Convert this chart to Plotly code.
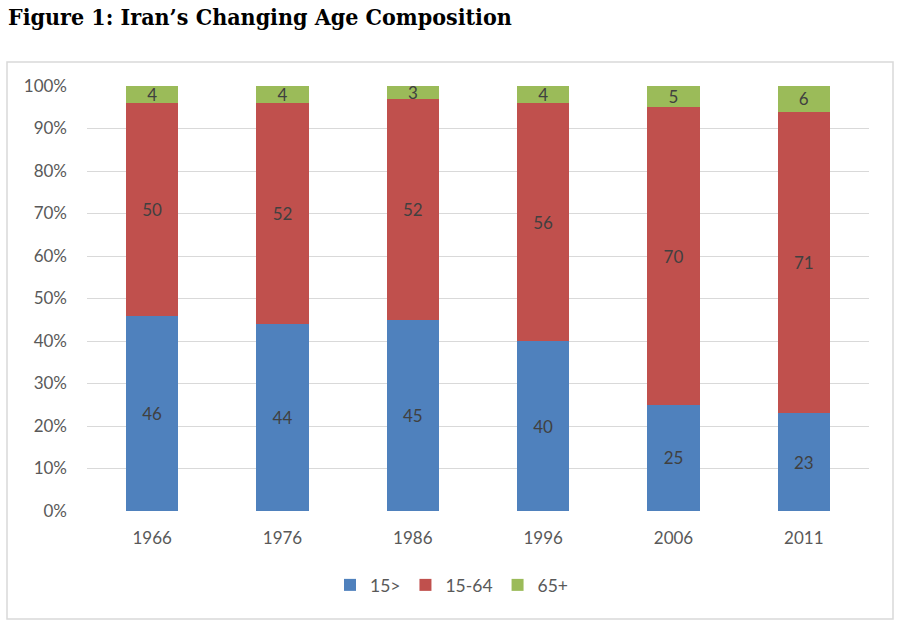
import plotly.graph_objects as go

years = ["1966", "1976", "1986", "1996", "2006", "2011"]
under15 = [46, 44, 45, 40, 25, 23]
age15_64 = [50, 52, 52, 56, 70, 71]
over65 = [4, 4, 3, 4, 5, 6]
series_names = ["15>", "15-64", "65+"]
colors = ["#4F81BD", "#C0504D", "#9BBB59"]
y_ticks = [0, 10, 20, 30, 40, 50, 60, 70, 80, 90, 100]
y_tick_labels = [f"{v}%" for v in y_ticks]

FONT = "Lato, Open Sans, sans-serif"

fig = go.Figure()
for name, vals, col in zip(series_names, [under15, age15_64, over65], colors):
    fig.add_trace(go.Bar(
        x=years, y=vals, name=name, marker=dict(color=col, line=dict(width=0)),
        text=[str(v) for v in vals], textposition="inside", insidetextanchor="middle",
        textangle=0,
        textfont=dict(family=FONT, size=17, color="#404040"),
        hoverinfo="skip",
    ))

L, R, T, B = 87, 31, 86, 113
W, H = 900, 624
pw, ph = W - L - R, H - T - B

def px_x(x):
    return (x - L) / pw

def px_y(y):
    return (H - B - y) / ph

fig.update_layout(
    barmode="stack",
    bargap=0.6,
    width=W, height=H,
    margin=dict(l=L, r=R, t=T, b=B),
    paper_bgcolor="white", plot_bgcolor="white",
    font=dict(family=FONT, size=17, color="#595959"),
    title=dict(
        text="<b>Figure 1: Iran’s Changing Age Composition</b>",
        xref="container", yref="container", x=8 / W, xanchor="left",
        y=1 - 17 / H, yanchor="middle",
        font=dict(family="DejaVu Serif Condensed, DejaVu Serif, serif", size=23, color="#000000"),
    ),
    xaxis=dict(
        type="category", range=[-0.5, 5.5], showgrid=False, zeroline=False,
        showline=False, ticks="", tickfont=dict(size=17, color="#595959"),
        ticklabelstandoff=15,
    ),
    yaxis=dict(
        range=[0, 100], tickvals=y_ticks, ticktext=y_tick_labels,
        showgrid=True, gridcolor="#D9D9D9", gridwidth=1.3, zeroline=False,
        showline=False, ticks="", tickfont=dict(size=17, color="#595959"),
        ticklabelstandoff=19,
    ),
    legend=dict(
        orientation="h", x=px_x(452), xanchor="center", y=px_y(585), yanchor="middle",
        font=dict(size=17.5, color="#595959"), itemwidth=30, traceorder="normal",
    ),
    uniformtext=dict(minsize=17, mode="show"),
    showlegend=True,
)

fig.add_shape(
    type="rect", xref="paper", yref="paper",
    x0=px_x(7), x1=px_x(893), y0=px_y(619), y1=px_y(62),
    line=dict(color="#D9D9D9", width=1.5), fillcolor="rgba(0,0,0,0)", layer="below",
)

fig.write_html(
    "out.html",
    config={"displayModeBar": False},
    post_script="document.body.style.margin='0';document.body.style.overflow='hidden';",
)
